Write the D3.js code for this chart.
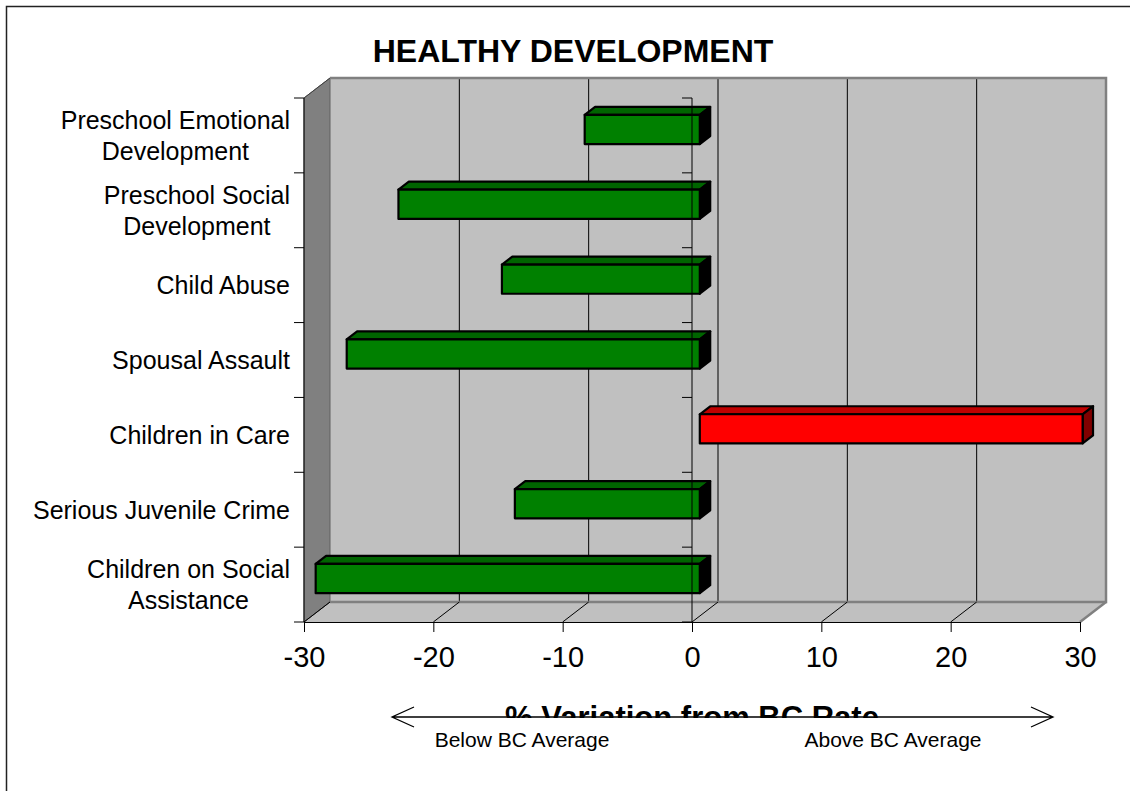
<!DOCTYPE html>
<html>
<head>
<meta charset="utf-8">
<script src="https://cdn.jsdelivr.net/npm/d3@7"></script>
<style>
  body { margin: 0; background: #fff; }
  svg { display: block; font-family: "Liberation Sans", Arial, sans-serif; }
</style>
</head>
<body>
<svg id="chart" width="1130" height="791"></svg>
<script>
// Healthy development indicators, % variation from the BC rate
const categories = [
  "Preschool Emotional\nDevelopment",
  "Preschool Social\nDevelopment",
  "Child Abuse",
  "Spousal Assault",
  "Children in Care",
  "Serious Juvenile Crime",
  "Children on Social\nAssistance"
];
const values = [-8.9, -23.3, -15.3, -27.3, 29.6, -14.3, -29.7];
const valueTicks = [-30, -20, -10, 0, 10, 20, 30];
const chartTitle = "HEALTHY DEVELOPMENT";
const axisTitle = "% Variation from BC Rate";
const directionLabels = ["Below BC Average", "Above BC Average"];

const svg = d3.select("#chart");

// front plane of the 3-D box
const x = d3.scaleLinear().domain([-30, 30]).range([304, 1080]);
const y = d3.scaleBand().domain(categories).range([98, 622]);
const boxTop = y.range()[0], boxBottom = y.range()[1];
const boxLeft = x(-30), boxRight = x(30);
const D = { dx: 26, dy: -20 };          // full depth of the box
const barFront = 0.3, barBack = 0.7;    // bar position within the depth
const barFrac = 0.39;                   // bar thickness as a share of the band

const pts = a => a.map(p => p.join(",")).join(" ");

// outer frame
svg.append("path")
  .attr("d", "M6.5,791V6.5H1130")
  .attr("fill", "none").attr("stroke", "#222").attr("stroke-width", 1.5);

// back wall
svg.append("rect")
  .attr("x", boxLeft + D.dx).attr("y", boxTop + D.dy)
  .attr("width", boxRight - boxLeft).attr("height", boxBottom - boxTop)
  .attr("fill", "#c0c0c0");

// left side wall
svg.append("polygon")
  .attr("points", pts([[boxLeft, boxTop], [boxLeft + D.dx, boxTop + D.dy], [boxLeft + D.dx, boxBottom + D.dy], [boxLeft, boxBottom]]))
  .attr("fill", "#808080").attr("stroke", "#606060").attr("stroke-width", 1);

// floor
svg.append("polygon")
  .attr("points", pts([[boxLeft, boxBottom], [boxRight, boxBottom], [boxRight + D.dx, boxBottom + D.dy], [boxLeft + D.dx, boxBottom + D.dy]]))
  .attr("fill", "#c0c0c0");

// gridlines on the back wall
svg.append("g").selectAll("line")
  .data(valueTicks.slice(1, -1))
  .join("line")
  .attr("x1", d => x(d) + D.dx).attr("x2", d => x(d) + D.dx)
  .attr("y1", boxTop + D.dy).attr("y2", boxBottom + D.dy)
  .attr("stroke", "#000").attr("stroke-width", 1);

// wall borders
svg.append("path")
  .attr("d", `M${boxLeft + D.dx},${boxBottom + D.dy}H${boxRight + D.dx}V${boxTop + D.dy}H${boxLeft + D.dx}`)
  .attr("fill", "none").attr("stroke", "#808080").attr("stroke-width", 2.5);
svg.append("path")
  .attr("d", `M${boxRight + D.dx},${boxBottom + D.dy}L${boxRight},${boxBottom}`)
  .attr("fill", "none").attr("stroke", "#808080").attr("stroke-width", 2.5);
svg.append("path")
  .attr("d", `M${boxLeft},${boxTop}L${boxLeft + D.dx},${boxTop + D.dy}M${boxLeft},${boxBottom}L${boxLeft + D.dx},${boxBottom + D.dy}`)
  .attr("fill", "none").attr("stroke", "#404040").attr("stroke-width", 1);

// floor lines running back from each tick
svg.append("g").selectAll("line")
  .data(valueTicks.slice(0, -1))
  .join("line")
  .attr("x1", d => x(d)).attr("y1", boxBottom)
  .attr("x2", d => x(d) + D.dx).attr("y2", boxBottom + D.dy)
  .attr("stroke", "#000").attr("stroke-width", 1);

// bars
const faces = v => v < 0
  ? { front: "#008000", top: "#006400", side: "#000000" }
  : { front: "#ff0000", top: "#c00000", side: "#800000" };

const bars = svg.append("g").selectAll("g")
  .data(categories.map((c, i) => ({ c, v: values[i] })))
  .join("g");

bars.each(function (d) {
  const g = d3.select(this);
  const h = y.bandwidth() * barFrac;
  const cy = y(d.c) + y.bandwidth() / 2;
  const x0 = x(Math.min(0, d.v)), x1 = x(Math.max(0, d.v));
  const y0 = cy - h / 2, y1 = cy + h / 2;
  const f = { dx: D.dx * barFront, dy: D.dy * barFront };
  const b = { dx: D.dx * barBack, dy: D.dy * barBack };
  const col = faces(d.v);
  const common = s => s.attr("stroke", "#000").attr("stroke-width", 2.2).attr("stroke-linejoin", "round");
  g.append("polygon")
    .attr("points", pts([[x0 + f.dx, y0 + f.dy], [x1 + f.dx, y0 + f.dy], [x1 + b.dx, y0 + b.dy], [x0 + b.dx, y0 + b.dy]]))
    .attr("fill", col.top).call(common);
  g.append("polygon")
    .attr("points", pts([[x1 + f.dx, y0 + f.dy], [x1 + b.dx, y0 + b.dy], [x1 + b.dx, y1 + b.dy], [x1 + f.dx, y1 + f.dy]]))
    .attr("fill", col.side).call(common);
  g.append("rect")
    .attr("x", x0 + f.dx).attr("y", y0 + f.dy)
    .attr("width", x1 - x0).attr("height", h)
    .attr("fill", col.front).call(common);
});

// value axis along the front of the floor
const xAxis = svg.append("g")
  .attr("transform", `translate(0,${boxBottom})`)
  .call(d3.axisBottom(x).tickValues(valueTicks).tickFormat(d => String(d))
    .tickSize(10).tickPadding(14).tickSizeOuter(0));
xAxis.select(".domain").attr("stroke", "#000");
xAxis.selectAll(".tick line").attr("stroke", "#000");
xAxis.selectAll(".tick text")
  .attr("font-size", 29).attr("font-family", "Liberation Sans, Arial, sans-serif").attr("fill", "#000");

// category axis lines with ticks at band boundaries
const boundaries = categories.map(c => y(c)).concat([boxBottom]);
[x(-30), x(0)].forEach(ax => {
  const g = svg.append("g");
  g.append("line")
    .attr("x1", ax).attr("x2", ax).attr("y1", boxTop).attr("y2", boxBottom)
    .attr("stroke", "#000").attr("stroke-width", 1);
  g.selectAll("line.tk").data(boundaries).join("line").attr("class", "tk")
    .attr("x1", ax - 10).attr("x2", ax).attr("y1", d => d).attr("y2", d => d)
    .attr("stroke", "#000").attr("stroke-width", 1);
});

// category labels: centred lines, block right-aligned
const labelRight = 290, lineGap = 31, labelSize = 25;
categories.forEach(c => {
  const lines = c.split("\n");
  const cy = y(c) + y.bandwidth() / 2;
  const g = svg.append("g");
  const texts = g.selectAll("text").data(lines).join("text")
    .attr("font-size", labelSize).attr("fill", "#000")
    .attr("text-anchor", "middle")
    .attr("y", (d, i) => cy + (i - (lines.length - 1) / 2) * lineGap + labelSize * 0.36)
    .text(d => d);
  let maxW = 0;
  texts.each(function () { maxW = Math.max(maxW, this.getComputedTextLength()); });
  texts.attr("x", labelRight - maxW / 2);
});

// chart title
svg.append("text")
  .attr("x", 573).attr("y", 62)
  .attr("text-anchor", "middle").attr("font-size", 32).attr("font-weight", "bold")
  .text(chartTitle);

// axis title; the direction text box sits over its lower half
svg.append("defs").append("clipPath").attr("id", "axis-title-clip")
  .append("rect").attr("x", 0).attr("y", 0).attr("width", 1130).attr("height", 718);
svg.append("text")
  .attr("x", x(0)).attr("y", 728)
  .attr("clip-path", "url(#axis-title-clip)")
  .attr("text-anchor", "middle").attr("font-size", 31).attr("font-weight", "bold")
  .text(axisTitle);

// double-headed direction arrow
const ax0 = 392, ax1 = 1053, ay = 717;
svg.append("path")
  .attr("d", `M${ax0},${ay}H${ax1}M${ax0 + 22},${ay - 10}L${ax0},${ay}L${ax0 + 22},${ay + 10}M${ax1 - 22},${ay - 10}L${ax1},${ay}L${ax1 - 22},${ay + 10}`)
  .attr("fill", "none").attr("stroke", "#000").attr("stroke-width", 1.3);

svg.selectAll("text.dir").data(directionLabels).join("text").attr("class", "dir")
  .attr("x", (d, i) => [522, 893][i]).attr("y", 747)
  .attr("text-anchor", "middle").attr("font-size", 21).attr("fill", "#000")
  .text(d => d);
</script>
</body>
</html>
